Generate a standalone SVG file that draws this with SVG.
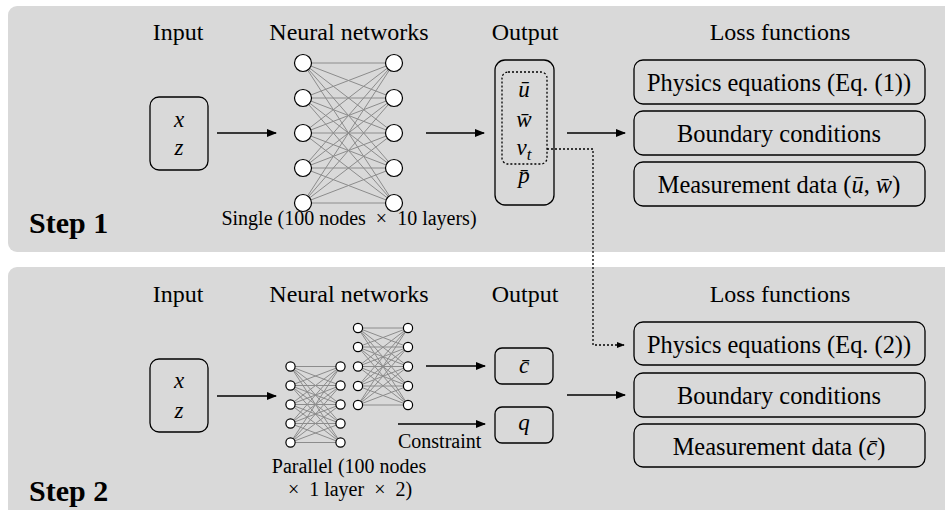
<svg xmlns="http://www.w3.org/2000/svg" width="945" height="510" viewBox="0 0 945 510">
<defs>
<style>
.panel{fill:#d9d9d9;stroke:none}
.t{font-family:"Liberation Serif","Times New Roman",serif;fill:#000}
.h{font-size:24px;text-anchor:middle}
.lt{font-size:24.4px;text-anchor:middle}
.s{font-size:20px;white-space:pre}
.step{font-size:30px;font-weight:bold}
.m{font-family:"Liberation Serif","Times New Roman",serif;font-style:italic;font-size:23px;text-anchor:middle}
.box{fill:none;stroke:#000;stroke-width:1.3}
.dbox{fill:none;stroke:#000;stroke-width:1.3;stroke-dasharray:2 2}
.edge{stroke:#000;stroke-width:1.5;fill:none}
.dedge{stroke:#000;stroke-width:1.3;fill:none;stroke-dasharray:2 2}
.nn{stroke:#8c8c8c;stroke-width:1;fill:none}
.nd{fill:#fff;stroke:#000;stroke-width:1.2}
</style>
<marker id="ah" viewBox="0 0 10 10" refX="9" refY="5" markerWidth="10" markerHeight="10" markerUnits="userSpaceOnUse" orient="auto">
<path d="M0,1 L10,5 L0,9 Z" fill="#000"/>
</marker>
<marker id="ahs" viewBox="0 0 10 10" refX="9" refY="5" markerWidth="8" markerHeight="8" markerUnits="userSpaceOnUse" orient="auto">
<path d="M0,1 L10,5 L0,9 Z" fill="#000"/>
</marker>
</defs>

<g id="panel1">
<rect class="panel" x="8" y="6" width="950" height="246" rx="9"/>
<text class="t step" x="29" y="233">Step 1</text>
<text class="t h" x="178" y="40">Input</text>
<text class="t h" x="349" y="40">Neural networks</text>
<text class="t h" x="525" y="40">Output</text>
<text class="t h" x="780" y="40">Loss functions</text>
</g>

<g id="panel2">
<rect class="panel" x="8" y="267" width="950" height="260" rx="9"/>
<text class="t step" x="29" y="501">Step 2</text>
<text class="t h" x="178" y="302">Input</text>
<text class="t h" x="349" y="302">Neural networks</text>
<text class="t h" x="525" y="302">Output</text>
<text class="t h" x="780" y="302">Loss functions</text>
</g>

<g id="connectors">
<line class="edge" x1="217" y1="133" x2="276" y2="133" marker-end="url(#ah)"/>
<line class="edge" x1="426" y1="133" x2="484" y2="133" marker-end="url(#ah)"/>
<line class="edge" x1="567" y1="133" x2="625" y2="133" marker-end="url(#ah)"/>
<path class="dedge" d="M547 149 H593 V345 H624" marker-end="url(#ahs)"/>
<line class="edge" x1="217" y1="396" x2="276" y2="396" marker-end="url(#ah)"/>
<line class="edge" x1="426" y1="366" x2="485" y2="366" marker-end="url(#ah)"/>
<line class="edge" x1="398" y1="424" x2="485" y2="424" marker-end="url(#ah)"/>
<line class="edge" x1="567" y1="395" x2="625" y2="395" marker-end="url(#ah)"/>
<text class="t s" x="398" y="448">Constraint</text>
</g>

<g id="input1">
<rect class="box" x="150" y="97" width="58" height="73" rx="9"/>
<text class="m" x="179" y="127">x</text>
<text class="m" x="179" y="155">z</text>
</g>

<g id="nn1">
<path class="nn" d="M303 63L394 63M303 63L394 98M303 63L394 133M303 63L394 168M303 63L394 203M303 98L394 63M303 98L394 98M303 98L394 133M303 98L394 168M303 98L394 203M303 133L394 63M303 133L394 98M303 133L394 133M303 133L394 168M303 133L394 203M303 168L394 63M303 168L394 98M303 168L394 133M303 168L394 168M303 168L394 203M303 203L394 63M303 203L394 98M303 203L394 133M303 203L394 168M303 203L394 203"/>
<circle class="nd" cx="303" cy="63" r="8.5"/><circle class="nd" cx="303" cy="98" r="8.5"/><circle class="nd" cx="303" cy="133" r="8.5"/><circle class="nd" cx="303" cy="168" r="8.5"/><circle class="nd" cx="303" cy="203" r="8.5"/>
<circle class="nd" cx="394" cy="63" r="8.5"/><circle class="nd" cx="394" cy="98" r="8.5"/><circle class="nd" cx="394" cy="133" r="8.5"/><circle class="nd" cx="394" cy="168" r="8.5"/><circle class="nd" cx="394" cy="203" r="8.5"/>
<text class="t s" x="349" y="225" text-anchor="middle">Single (100 nodes  ×  10 layers)</text>
</g>

<g id="output1">
<rect class="box" x="495" y="60" width="59" height="145" rx="10"/>
<rect class="dbox" x="502" y="72" width="45" height="92" rx="6"/>
<text class="m" x="524" y="97">u&#x0304;</text>
<text class="m" x="524" y="127">w&#x0304;</text>
<text class="m" x="524" y="155">ν<tspan font-size="17" dy="5">t</tspan></text>
<text class="m" x="524" y="183">p&#x0304;</text>
</g>

<g id="loss1a"><rect class="box" x="634" y="60" width="291" height="44" rx="9"/><text class="t lt" x="779" y="91">Physics equations (Eq. (1))</text></g>
<g id="loss1b"><rect class="box" x="634" y="111" width="291" height="44" rx="9"/><text class="t lt" x="779" y="142">Boundary conditions</text></g>
<g id="loss1c"><rect class="box" x="634" y="162" width="291" height="44" rx="9"/><text class="t lt" x="779" y="193">Measurement data (<tspan font-style="italic">u&#x0304;</tspan>, <tspan font-style="italic">w&#x0304;</tspan>)</text></g>

<g id="input2">
<rect class="box" x="150" y="359" width="58" height="73" rx="9"/>
<text class="m" x="179" y="388">x</text>
<text class="m" x="179" y="418">z</text>
</g>

<g id="nn2a">
<path class="nn" d="M290.5 366.5L340.5 366.5M290.5 366.5L340.5 385.5M290.5 366.5L340.5 404.5M290.5 366.5L340.5 423.5M290.5 366.5L340.5 442.5M290.5 385.5L340.5 366.5M290.5 385.5L340.5 385.5M290.5 385.5L340.5 404.5M290.5 385.5L340.5 423.5M290.5 385.5L340.5 442.5M290.5 404.5L340.5 366.5M290.5 404.5L340.5 385.5M290.5 404.5L340.5 404.5M290.5 404.5L340.5 423.5M290.5 404.5L340.5 442.5M290.5 423.5L340.5 366.5M290.5 423.5L340.5 385.5M290.5 423.5L340.5 404.5M290.5 423.5L340.5 423.5M290.5 423.5L340.5 442.5M290.5 442.5L340.5 366.5M290.5 442.5L340.5 385.5M290.5 442.5L340.5 404.5M290.5 442.5L340.5 423.5M290.5 442.5L340.5 442.5"/>
<circle class="nd" cx="290.5" cy="366.5" r="4.6"/><circle class="nd" cx="290.5" cy="385.5" r="4.6"/><circle class="nd" cx="290.5" cy="404.5" r="4.6"/><circle class="nd" cx="290.5" cy="423.5" r="4.6"/><circle class="nd" cx="290.5" cy="442.5" r="4.6"/>
<circle class="nd" cx="340.5" cy="366.5" r="4.6"/><circle class="nd" cx="340.5" cy="385.5" r="4.6"/><circle class="nd" cx="340.5" cy="404.5" r="4.6"/><circle class="nd" cx="340.5" cy="423.5" r="4.6"/><circle class="nd" cx="340.5" cy="442.5" r="4.6"/>
</g>

<g id="nn2b">
<path class="nn" d="M358 328L408 328M358 328L408 347M358 328L408 366.5M358 328L408 386M358 328L408 405M358 347L408 328M358 347L408 347M358 347L408 366.5M358 347L408 386M358 347L408 405M358 366.5L408 328M358 366.5L408 347M358 366.5L408 366.5M358 366.5L408 386M358 366.5L408 405M358 386L408 328M358 386L408 347M358 386L408 366.5M358 386L408 386M358 386L408 405M358 405L408 328M358 405L408 347M358 405L408 366.5M358 405L408 386M358 405L408 405"/>
<circle class="nd" cx="358" cy="328" r="4.6"/><circle class="nd" cx="358" cy="347" r="4.6"/><circle class="nd" cx="358" cy="366.5" r="4.6"/><circle class="nd" cx="358" cy="386" r="4.6"/><circle class="nd" cx="358" cy="405" r="4.6"/>
<circle class="nd" cx="408" cy="328" r="4.6"/><circle class="nd" cx="408" cy="347" r="4.6"/><circle class="nd" cx="408" cy="366.5" r="4.6"/><circle class="nd" cx="408" cy="386" r="4.6"/><circle class="nd" cx="408" cy="405" r="4.6"/>
<text class="t s" x="349" y="473" text-anchor="middle">Parallel (100 nodes</text>
<text class="t s" x="350" y="496" text-anchor="middle">×  1 layer  ×  2)</text>
</g>

<g id="output2c"><rect class="box" x="495" y="348" width="58" height="36" rx="7"/><text class="m" x="524" y="373">c&#x0304;</text></g>
<g id="output2q"><rect class="box" x="495" y="407" width="58" height="36" rx="7"/><text class="m" x="524" y="430">q</text></g>

<g id="loss2a"><rect class="box" x="634" y="322" width="291" height="43" rx="9"/><text class="t lt" x="779" y="353">Physics equations (Eq. (2))</text></g>
<g id="loss2b"><rect class="box" x="634" y="373" width="291" height="44" rx="9"/><text class="t lt" x="779" y="404">Boundary conditions</text></g>
<g id="loss2c"><rect class="box" x="634" y="424" width="291" height="43" rx="9"/><text class="t lt" x="779" y="455">Measurement data (<tspan font-style="italic">c&#x0304;</tspan>)</text></g>
</svg>
